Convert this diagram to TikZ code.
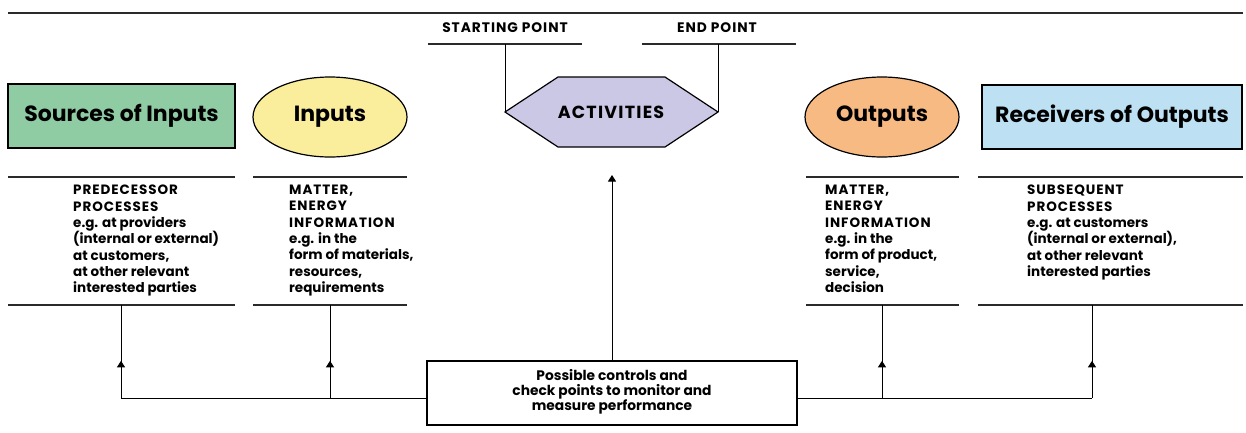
\documentclass[tikz,border=0pt]{standalone}
\usepackage{fontspec}
\setmainfont{Poppins}
\usetikzlibrary{arrows.meta,shapes.geometric,decorations.markings}
\definecolor{cgreen}{HTML}{8FCBA3}
\definecolor{cyellow}{HTML}{FAEE9C}
\definecolor{clav}{HTML}{CBC8E6}
\definecolor{corange}{HTML}{F7BA82}
\definecolor{cblue}{HTML}{BDE1F3}
\definecolor{cline}{HTML}{2A2A2A}
\newcommand{\cp}[1]{{\addfontfeature{LetterSpace=7}#1}}
\tikzset{
  title/.style={font=\fontsize{22}{24}\selectfont\bfseries, inner sep=0pt},
  shapeline/.style={draw=black, line width=1.2pt},
  rule/.style={draw=cline, line width=1.3pt},
  conn/.style={draw=black, line width=1pt},
  body/.style={font=\fontsize{13.5}{16.3}\selectfont\bfseries, align=left, anchor=north west, inner sep=0pt},
  head/.style={font=\fontsize{13.8}{14}\selectfont\bfseries, inner sep=0pt},
  midup/.style={postaction={decorate}, decoration={markings, mark=at position #1 with {\arrow{Triangle[width=8pt,length=6.5pt]}}}},
  tip/.style={-{Triangle[width=8pt,length=6.5pt]}}
}
\begin{document}
\begin{tikzpicture}[x=1pt,y=-1pt]
\useasboundingbox (0,0) rectangle (1246,432);
% top rule
\draw[rule] (8,13) -- (1243,13);
% starting / end point
\node[head] (sp) at (505,28) {\cp{STARTING POINT}};
\node[head] (ep) at (717,28) {\cp{END POINT}};
\draw[rule, line width=1.1pt] (428,44) -- (582,44);
\draw[rule, line width=1.1pt] (642,44) -- (796,44);
\coordinate (spb) at (505,44);
\coordinate (epb) at (718,44);
% hexagon
\coordinate (hl) at (505,112);
\coordinate (hr) at (718,112);
\draw[shapeline, fill=clav] (hl) -- (558,77) -- (665,77) -- (hr) -- (665,147) -- (558,147) -- cycle;
\node[title, font=\fontsize{17.5}{18}\selectfont\bfseries] (act) at (611,112) {\cp{ACTIVITIES}};
\draw[conn] (spb) -- (hl);
\draw[conn] (epb) -- (hr);
% boxes
\node[shapeline, fill=cgreen, minimum width=227pt, minimum height=64pt, inner sep=0pt] (src) at (121.5,116) {};
\node[title] at (src) {Sources of Inputs};
\node[shapeline, fill=cyellow, ellipse, minimum width=154pt, minimum height=80pt, inner sep=0pt] (inp) at (330,117) {};
\node[title] at (inp) {Inputs};
\node[shapeline, fill=corange, ellipse, minimum width=154pt, minimum height=80pt, inner sep=0pt] (out) at (882,117) {};
\node[title] at (out) {Outputs};
\node[shapeline, fill=cblue, minimum width=260pt, minimum height=64pt, inner sep=0pt] (rec) at (1112,117) {};
\node[title] at (rec) {Receivers of Outputs};
% text block rules
\foreach \a/\b in {8/235, 253/407, 806/959, 978/1243}{
  \draw[rule, line width=1.1pt] (\a,177) -- (\b,177);
  \draw[rule, line width=1.1pt] (\a,305) -- (\b,305);
}
\node[body] (t1) at (73,185) {\cp{PREDECESSOR}\\\cp{PROCESSES}\\e.g. at providers\\(internal or external)\\at customers,\\at other relevant\\interested parties};
\node[body] (t2) at (289,185) {\cp{MATTER,}\\\cp{ENERGY}\\\cp{INFORMATION}\\e.g. in the\\form of materials,\\resources,\\requirements};
\node[body] (t3) at (825,185) {\cp{MATTER,}\\\cp{ENERGY}\\\cp{INFORMATION}\\e.g. in the\\form of product,\\service,\\decision};
\node[body] (t4) at (1027,185) {\cp{SUBSEQUENT}\\\cp{PROCESSES}\\e.g. at customers\\(internal or external),\\at other relevant\\interested parties};
\coordinate (b1) at (121,305);
\coordinate (b2) at (330,305);
\coordinate (b3) at (882,305);
\coordinate (b4) at (1092,305);
% control box
\node[draw=black, line width=1.2pt, fill=white, minimum width=370pt, minimum height=64pt, inner sep=0pt] (ctrl) at (612,393) {};
\coordinate (j1) at (121,398);
\coordinate (j2) at (330,398);
\coordinate (j3) at (882,398);
\coordinate (j4) at (1092,398);
\draw[conn] (j1) -- (ctrl.west |- j1);
\draw[conn] (ctrl.east |- j4) -- (j4);
\node[font=\fontsize{13.8}{15}\selectfont\bfseries, align=center, inner sep=0pt] (ctxt) at ([yshift=1pt]ctrl.center) {Possible controls and\\check points to monitor and\\measure performance};
\draw[conn, midup=0.4] (j1) -- (b1);
\draw[conn, midup=0.4] (j2) -- (b2);
\draw[conn, midup=0.4] (j3) -- (b3);
\draw[conn, midup=0.4] (j4) -- (b4);
\coordinate (atop) at (612,175);
\draw[conn, tip] (ctrl.north) -- (atop);
\end{tikzpicture}
\end{document}
